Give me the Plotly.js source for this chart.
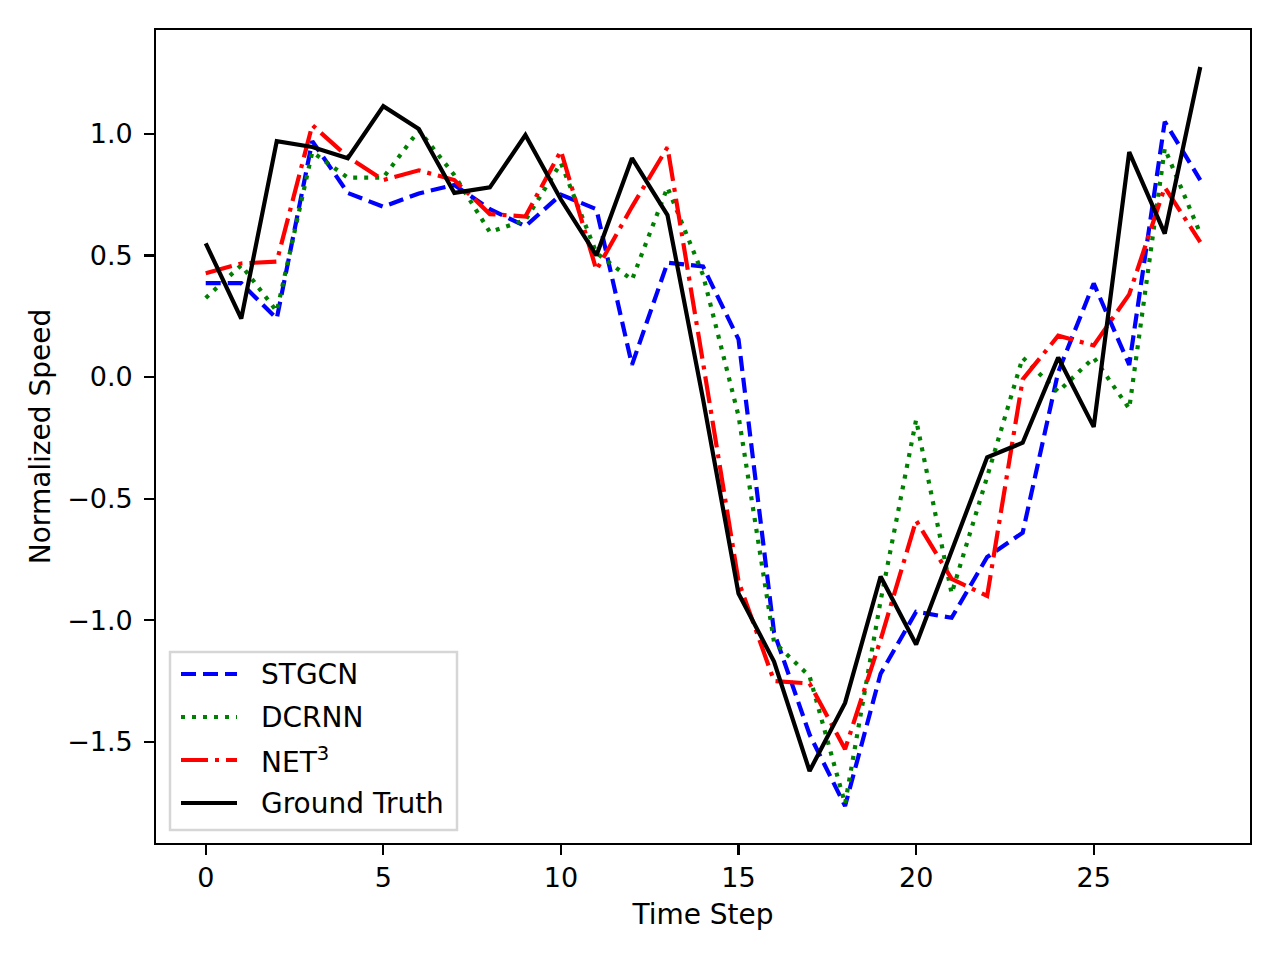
<!DOCTYPE html>
<html>
<head>
<meta charset="utf-8">
<script src="https://cdn.plot.ly/plotly-3.0.1.min.js"></script>
<style>html,body{margin:0;padding:0;background:#fff;}#chart{width:1280px;height:960px;}</style>
</head>
<body>
<div id="chart"></div>
<script>
const timeSteps = [0,1,2,3,4,5,6,7,8,9,10,11,12,13,14,15,16,17,18,19,20,21,22,23,24,25,26,27,28];
const stgcn = [0.386,0.386,0.24,0.97,0.757,0.70,0.755,0.79,0.69,0.62,0.75,0.69,0.05,0.47,0.455,0.155,-1.05,-1.47,-1.764,-1.22,-0.965,-0.99,-0.74,-0.64,0.02,0.385,0.05,1.05,0.81];
const dcrnn = [0.325,0.46,0.27,0.925,0.82,0.82,1.015,0.83,0.596,0.645,0.88,0.51,0.40,0.78,0.42,-0.16,-1.09,-1.23,-1.755,-0.92,-0.176,-0.89,-0.41,0.08,-0.06,0.08,-0.13,0.94,0.59];
const net3 = [0.427,0.467,0.475,1.036,0.905,0.81,0.85,0.81,0.67,0.66,0.93,0.44,0.70,0.945,0.06,-0.84,-1.25,-1.26,-1.53,-1.08,-0.59,-0.83,-0.90,-0.01,0.17,0.13,0.34,0.78,0.555];
const groundTruth = [0.55,0.24,0.97,0.946,0.90,1.114,1.02,0.757,0.78,0.995,0.73,0.50,0.90,0.666,-0.09,-0.89,-1.17,-1.62,-1.34,-0.82,-1.10,-0.72,-0.33,-0.27,0.08,-0.205,0.925,0.59,1.275];
const seriesNames = ["STGCN","DCRNN","NET<sup>3</sup>","Ground Truth"];
const seriesColors = ["#0000ff","#008000","#ff0000","#000000"];
const seriesDashes = ["15px,7px","4px,7px","27px,7px,4px,7px","solid"];
const xTicks = [0,5,10,15,20,25];
const yTicks = [-1.5,-1.0,-0.5,0.0,0.5,1.0];

const font = "DejaVu Sans, sans-serif";
const seriesValues = [stgcn, dcrnn, net3, groundTruth];
const traces = seriesValues.map((vals, i) => ({
  x: timeSteps, y: vals, name: seriesNames[i], mode: "lines", showlegend: false,
  line: {color: seriesColors[i], width: 4.2, dash: seriesDashes[i]}
}));

// Plot area in pixels (for placing the legend box in paper coordinates)
const L = 156, R = 1250, T = 30, B = 843;
const px = v => (v - L) / (R - L);
const py = v => (B - v) / (B - T);

const shapes = [{
  type: "rect", xref: "paper", yref: "paper",
  x0: px(170), x1: px(457), y0: py(830), y1: py(652),
  fillcolor: "rgba(255,255,255,0.8)", line: {color: "#d6d6d6", width: 2.5}, layer: "above"
}];
const annotations = [];
const rowY = [674, 717, 760, 803];
seriesNames.forEach((name, i) => {
  shapes.push({
    type: "line", xref: "paper", yref: "paper",
    x0: px(181), x1: px(237), y0: py(rowY[i]), y1: py(rowY[i]),
    line: {color: seriesColors[i], width: 4.2, dash: seriesDashes[i]}, layer: "above"
  });
  annotations.push({
    xref: "paper", yref: "paper", x: px(259), y: py(rowY[i]),
    xanchor: "left", yanchor: "middle", showarrow: false, text: name,
    font: {family: font, size: 28, color: "#000"}
  });
});

const layout = {
  width: 1280, height: 960,
  margin: {l: L, r: 1280 - R, t: T, b: 960 - B},
  paper_bgcolor: "#ffffff", plot_bgcolor: "#ffffff",
  font: {family: font, size: 27, color: "#000"},
  showlegend: false,
  shapes: shapes,
  annotations: annotations,
  xaxis: {
    range: [-1.4, 29.4], tickvals: xTicks, ticktext: xTicks.map(String),
    showgrid: false, zeroline: false, showline: true, mirror: true,
    linecolor: "#000", linewidth: 2.2, ticks: "outside", ticklen: 9.7, tickwidth: 2.2, tickcolor: "#000",
    tickfont: {family: font, size: 27},
    title: {text: "Time Step", font: {family: font, size: 28}, standoff: 12}
  },
  yaxis: {
    range: [-1.916, 1.427], tickvals: yTicks, tickformat: ".1f",
    showgrid: false, zeroline: false, showline: true, mirror: true,
    linecolor: "#000", linewidth: 2.2, ticks: "outside", ticklen: 9.7, tickwidth: 2.2, tickcolor: "#000",
    ticklabelstandoff: 6,
    tickfont: {family: font, size: 27},
    title: {text: "Normalized Speed", font: {family: font, size: 28}, standoff: 8}
  }
};

Plotly.newPlot("chart", traces, layout, {displayModeBar: false, staticPlot: true});
</script>
</body>
</html>
